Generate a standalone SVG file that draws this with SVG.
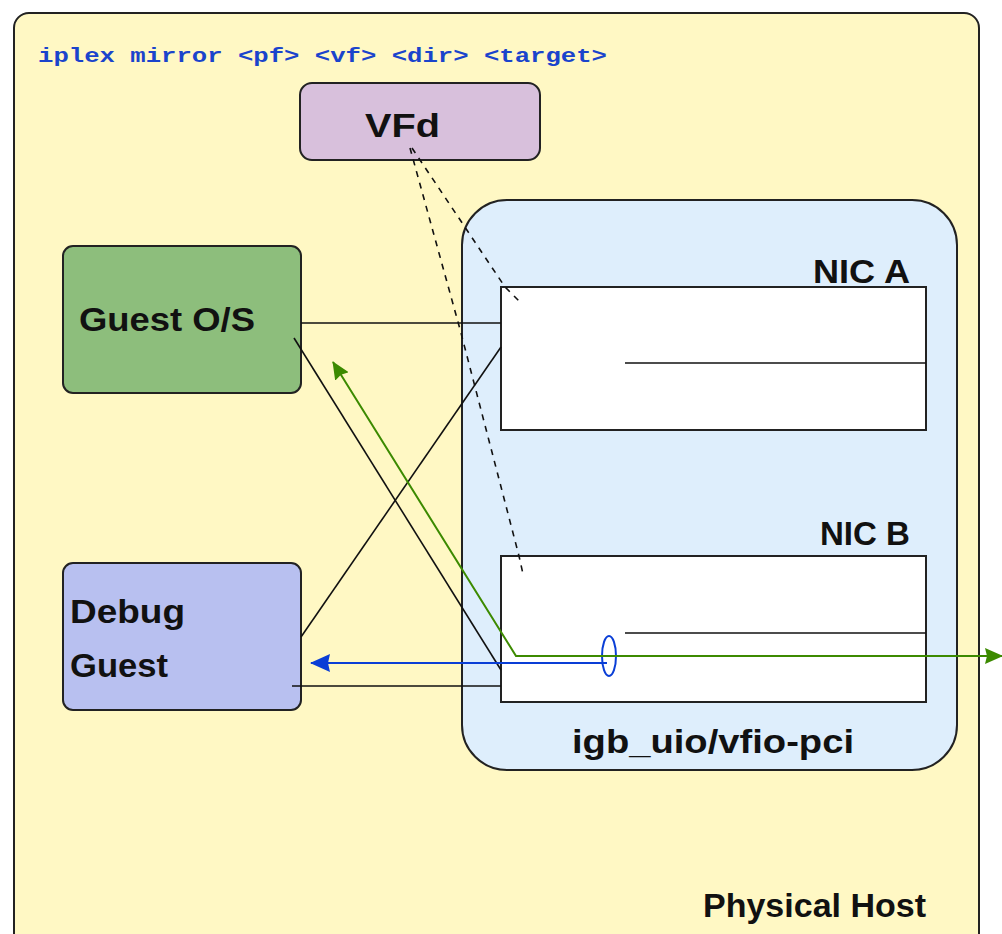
<svg xmlns="http://www.w3.org/2000/svg" width="1002" height="934" viewBox="0 0 1002 934">
<style>
.box{stroke:#222;stroke-width:2}
.lbl{font-family:"Liberation Sans",Arial,sans-serif;font-weight:bold;font-size:33px;fill:#111}
.ln{fill:none;stroke:#111;stroke-width:1.6}
.dash{fill:none;stroke:#111;stroke-width:1.6;stroke-dasharray:6 6}
</style>
<defs>
<marker id="ag" viewBox="0 0 18 16" refX="17" refY="8" markerWidth="18" markerHeight="16" markerUnits="userSpaceOnUse" orient="auto-start-reverse"><path d="M0,0 L18,8 L0,16 L2,8 z" fill="#3c8a00"/></marker>
<marker id="ab" viewBox="0 0 20 18" refX="19" refY="9" markerWidth="20" markerHeight="18" markerUnits="userSpaceOnUse" orient="auto"><path d="M0,0 L20,9 L0,18 L2,9 z" fill="#0a3ed6"/></marker>
</defs>
<rect width="1002" height="934" fill="#ffffff"/>
<g id="physical-host">
<rect class="box" x="14" y="13" width="965" height="960" rx="15" fill="#fff8c4"/>
<text x="38" y="62" font-family="'Liberation Mono','Courier New',monospace" font-size="21" font-weight="bold" fill="#1a44cc" textLength="569" lengthAdjust="spacingAndGlyphs">iplex mirror &lt;pf&gt; &lt;vf&gt; &lt;dir&gt; &lt;target&gt;</text>
<text class="lbl" x="703" y="917" textLength="223" lengthAdjust="spacingAndGlyphs">Physical Host</text>
</g>
<g id="igb-uio">
<rect class="box" x="462" y="200" width="495" height="570" rx="45" fill="#deeefc"/>
<text class="lbl" x="572" y="753" textLength="282" lengthAdjust="spacingAndGlyphs">igb_uio/vfio-pci</text>
</g>
<g id="vfd">
<rect class="box" x="300" y="83" width="240" height="77" rx="12" fill="#d8c0dc"/>
<text class="lbl" x="365" y="137" textLength="75" lengthAdjust="spacingAndGlyphs">VFd</text>
</g>
<g id="guest-os">
<rect class="box" x="63" y="246" width="238" height="147" rx="10" fill="#8dbe7c"/>
<text class="lbl" x="79" y="331" textLength="176" lengthAdjust="spacingAndGlyphs">Guest O/S</text>
</g>
<g id="debug-guest">
<rect class="box" x="63" y="563" width="238" height="147" rx="10" fill="#b8c0f0"/>
<text class="lbl" x="70" y="623" textLength="115" lengthAdjust="spacingAndGlyphs">Debug</text>
<text class="lbl" x="70" y="677" textLength="98" lengthAdjust="spacingAndGlyphs">Guest</text>
</g>
<g id="nic-a">
<text class="lbl" x="813" y="283" textLength="97" lengthAdjust="spacingAndGlyphs">NIC A</text>
<rect class="box" x="501" y="287" width="425" height="143" fill="#ffffff"/>
<line class="ln" x1="625" y1="363" x2="926" y2="363"/>
</g>
<g id="nic-b">
<text class="lbl" x="820" y="545" textLength="90" lengthAdjust="spacingAndGlyphs">NIC B</text>
<rect class="box" x="501" y="556" width="425" height="146" fill="#ffffff"/>
<line class="ln" x1="625" y1="633" x2="926" y2="633"/>
</g>
<g id="connectors">
<line class="ln" x1="301" y1="323" x2="501" y2="323"/>
<line class="ln" x1="294" y1="338" x2="501" y2="670"/>
<line class="ln" x1="301" y1="637" x2="501" y2="347"/>
<line class="ln" x1="292" y1="686" x2="501" y2="686"/>
<polyline class="dash" points="412,148 505,287 522,304"/>
<polyline class="dash" points="410,148 458,322 461,333 519,556 523,574"/>
<line x1="607" y1="663" x2="311" y2="663" stroke="#0a3ed6" stroke-width="2" marker-end="url(#ab)"/>
<ellipse cx="609" cy="656" rx="7" ry="20" fill="none" stroke="#0a3ed6" stroke-width="2"/>
<polyline points="333,362 516,656 1002,656" fill="none" stroke="#3c8a00" stroke-width="2" marker-start="url(#ag)" marker-end="url(#ag)"/>
</g>
</svg>
